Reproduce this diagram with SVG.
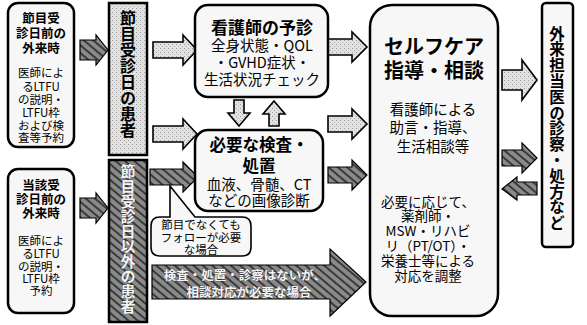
<svg xmlns="http://www.w3.org/2000/svg" width="587" height="325" viewBox="0 0 587 325">
<defs>
<pattern id="hatch" width="6" height="6" patternUnits="userSpaceOnUse" patternTransform="rotate(40)">
<rect width="6" height="6" fill="#8a8a8a"/>
<rect width="6" height="2" fill="#3a3a3a"/>
</pattern>
<pattern id="dots" width="4" height="4" patternUnits="userSpaceOnUse">
<rect width="4" height="4" fill="#e2e2e2"/>
<rect x="0" y="0" width="1" height="1" fill="#9a9a9a"/>
<rect x="2" y="2" width="1" height="1" fill="#b0b0b0"/>
</pattern>
<style>
.box{fill:#f7f7f7;stroke:#000;stroke-width:2.5}
.lt{fill:url(#dots);stroke:#000;stroke-width:1.6}
.dk{fill:url(#hatch);stroke:#000;stroke-width:1.2}
text{font-family:"Noto Sans CJK JP","Noto Sans",sans-serif;text-anchor:middle;fill:#000}
.v{writing-mode:vertical-rl;text-anchor:start;font-weight:bold}
.b{font-weight:bold}
.s12{font-size:11.5px}
.s13{font-size:12.5px}
.s14{font-size:13.5px}
.s145{font-size:14.5px}
.w{fill:#f4f4f4;stroke:#222;stroke-width:0.4;paint-order:stroke}
</style>
</defs>

<g id="connectors">
<path class="dk" d="M80,40 H96 V35 L108,50 L96,65 V60 H80 Z"/>
<path class="dk" d="M80,198 H96 V193 L108,208 L96,223 V218 H80 Z"/>
<path class="lt" d="M153,42 H183 V35 L197,50 L183,65 V58 H153 Z"/>
<path class="lt" d="M153,126 H183 V119 L197,134 L183,149 V142 H153 Z"/>
<path class="dk" d="M150,169 H183 V162 L198,177 L183,192 V185 H150 Z"/>
<path class="lt" d="M234,100 H244 V113 H250 L239,126 L228,113 H234 Z"/>
<path class="lt" d="M274,101 L285,114 H279 V126 H269 V114 H263 Z"/>
<path class="lt" d="M328,39 H352 V32 L367,47 L352,62 V55 H328 Z"/>
<path class="lt" d="M328,116 H352 V109 L367,124 L352,139 V132 H328 Z"/>
<path class="dk" d="M328,167 H352 V160 L367,175 L352,190 V183 H328 Z"/>
<path class="lt" d="M502,70 H522 V60 L537,80 L522,100 V90 H502 Z"/>
<path class="dk" d="M502,150 H522 V143 L537,158 L522,173 V166 H502 Z"/>
<path class="dk" d="M537,182 H517 V177 L502,189 L517,200 V195 H537 Z"/>
<path class="dk" d="M152,265 H330 V249 L366,282 L330,316 V299 H152 Z"/>
<path fill="#000" d="M425,157 H442 V172 H450 L433.5,188 L417,172 H425 Z"/>
</g>

<g id="left-top">
<rect class="box" x="8" y="3" width="66" height="144" rx="10"/>
<text class="b s13" x="41" y="23"><tspan x="41">節目受</tspan><tspan x="41" dy="15">診日前の</tspan><tspan x="41" dy="15">外来時</tspan></text>
<text class="s12" x="41" y="77"><tspan x="41">医師によ</tspan><tspan x="41" dy="14">るLTFU</tspan><tspan x="41" dy="13">の説明・</tspan><tspan x="41" dy="13">LTFU枠</tspan><tspan x="41" dy="13">および検</tspan><tspan x="41" dy="12">査等予約</tspan></text>
</g>

<g id="left-bottom">
<rect class="box" x="8" y="169" width="66" height="144" rx="10"/>
<text class="b s13" x="41" y="190"><tspan x="41">当該受</tspan><tspan x="41" dy="14">診日前の</tspan><tspan x="41" dy="14">外来時</tspan></text>
<text class="s12" x="41" y="245"><tspan x="41">医師によ</tspan><tspan x="41" dy="13">るLTFU</tspan><tspan x="41" dy="13">の説明・</tspan><tspan x="41" dy="12">LTFU枠</tspan><tspan x="41" dy="12">予約</tspan></text>
</g>

<g id="bar-top">
<rect x="109" y="3" width="38" height="152" fill="url(#dots)" stroke="#000" stroke-width="2.5"/>
<text class="v" font-size="16" x="128" y="10">節目受診日の患者</text>
</g>

<g id="bar-bottom">
<rect x="109" y="160" width="38" height="162" fill="url(#hatch)" stroke="#000" stroke-width="2.5"/>
<text class="v w" font-size="15" x="128" y="164">節目受診日以外の患者</text>
</g>

<g id="nurse">
<rect class="box" x="195" y="5" width="133" height="92" rx="13"/>
<text class="b" font-size="17" x="262" y="34">看護師の予診</text>
<text class="s145" x="262" y="51"><tspan x="262">全身状態・QOL</tspan><tspan x="262" dy="17">・GVHD症状・</tspan><tspan x="262" dy="17">生活状況チェック</tspan></text>
</g>

<g id="exam">
<rect class="box" x="195" y="130" width="128" height="81" rx="13"/>
<text class="b" font-size="16.5" x="259" y="151"><tspan x="259">必要な検査・</tspan><tspan x="259" dy="21">処置</tspan></text>
<text class="s145" x="259" y="190"><tspan x="259">血液、骨髄、CT</tspan><tspan x="259" dy="16">などの画像診断</tspan></text>
</g>

<g id="callout">
<path d="M160,217 H170 V186 L195,217 H242 Q251,217 251,226 V247 Q251,256 242,256 H160 Q151,256 151,247 V226 Q151,217 160,217 Z" fill="#f7f7f7" stroke="#000" stroke-width="1.6"/>
<text class="s12" x="201" y="229"><tspan x="201">節目でなくても</tspan><tspan x="201" dy="13">フォローが必要</tspan><tspan x="201" dy="12">な場合</tspan></text>
</g>

<g id="bottom-arrow-label">
<text class="b w" font-size="12.5" x="245" y="280"><tspan x="245">検査・処置・診察はないが、</tspan><tspan x="249" dy="17">相談対応が必要な場合</tspan></text>
</g>

<g id="selfcare">
<rect class="box" x="370" y="5" width="128" height="311" rx="22"/>
<text class="b" font-size="20" x="434" y="54"><tspan x="434">セルフケア</tspan><tspan x="434" dy="24">指導・相談</tspan></text>
<text class="s145" x="433" y="115"><tspan x="433">看護師による</tspan><tspan x="433" dy="18">助言・指導、</tspan><tspan x="433" dy="19">生活相談等</tspan></text>
<text class="s14" x="428" y="207"><tspan x="428">必要に応じて、</tspan><tspan x="428" dy="14">薬剤師・</tspan><tspan x="428" dy="15">MSW・リハビ</tspan><tspan x="428" dy="15">リ（PT/OT）・</tspan><tspan x="428" dy="15">栄養士等による</tspan><tspan x="428" dy="15">対応を調整</tspan></text>
</g>

<g id="doctor">
<rect class="box" x="542" y="3" width="31" height="244" rx="4"/>
<text class="v" font-size="15.5" x="557" y="26" letter-spacing="0.3">外来担当医の診察・処方など</text>
</g>
</svg>
